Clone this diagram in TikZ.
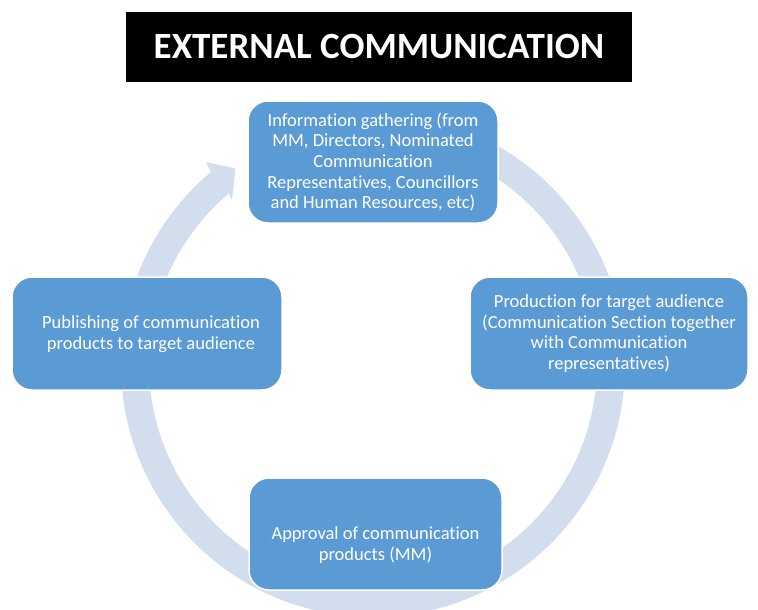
\documentclass[tikz,border=0pt]{standalone}
\usepackage{fontspec}
\setmainfont{Carlito}[Ligatures=NoCommon]
\usetikzlibrary{calc}
\definecolor{boxblue}{RGB}{91,155,213}
\definecolor{ringblue}{RGB}{210,222,238}
\tikzset{
  stagebox/.style={rectangle, rounded corners=20pt, fill=boxblue, draw=white,
    line width=1.5pt, inner sep=0pt, text=white, align=center,
    font=\fontsize{18.5}{20.7}\selectfont},
  stagetext/.style={text=white, align=center, inner sep=0pt,
    font=\fontsize{18.5}{20.7}\selectfont},
  ring/.style={fill=ringblue, draw=none}
}
\begin{document}
\begin{tikzpicture}[x=1pt,y=-1pt]
\useasboundingbox (0,0) rectangle (758,610);
\fill[white] (0,0) rectangle (758,610);

% centre of the cycle
\coordinate (C) at (373,365);

% circular arrow running clockwise behind the stages
\fill[ring] ($(C)+(-90:252)$) arc[start angle=-90, end angle=230, radius=252]
  -- ($(C)+(230.5:263)$) -- ($(C)+(235:240)$) -- ($(C)+(229.5:217)$)
  -- ($(C)+(230:224)$) arc[start angle=230, end angle=-90, radius=224] -- cycle;

% title
\node[rectangle, fill=black, minimum width=506pt, minimum height=70pt,
  text=white, font=\fontsize{37}{44}\selectfont\bfseries] (title) at (379,47)
  {EXTERNAL COMMUNICATION};

% stages
\node[stagebox, minimum width=250pt, minimum height=122pt] (gather) at (373,162)
  {Information gathering (from\\MM, Directors, Nominated\\Communication\\Representatives, Councillors\\and Human Resources, etc)};
\node[stagebox, minimum width=278pt, minimum height=113pt] (produce) at (609,333.5)
  {Production for target audience\\(Communication Section together\\with Communication\\representatives)};
\node[stagebox, minimum width=253pt, minimum height=112pt] (approve) at (375.5,534) {};
\node[stagetext] (approvetext) at (375.5,545)
  {Approval of communication\\products (MM)};
\node[stagebox, minimum width=270pt, minimum height=113pt] (publish) at (147,333.5) {};
\node[stagetext] (publishtext) at (151,334)
  {Publishing of communication\\products to target audience};
\end{tikzpicture}
\end{document}
